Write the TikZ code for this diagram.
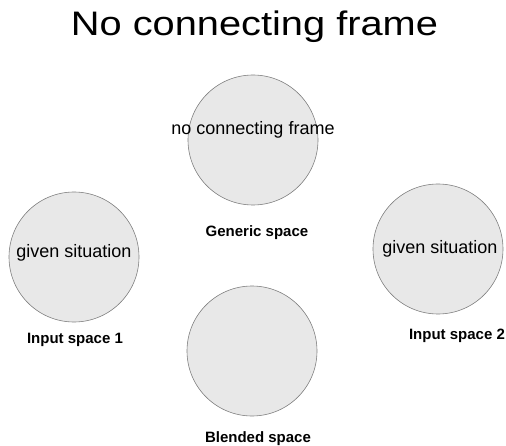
\documentclass[tikz,border=0pt]{standalone}
\usepackage{fontspec}
\setmainfont{Liberation Sans}
\newfontfamily\titlefont[FakeStretch=1.17]{Liberation Sans}
\usepackage{tikz}
\usetikzlibrary{positioning}
\tikzstyle{space} = [circle, minimum size=130pt, inner sep=0pt, draw=black!50, fill=black!9, line width=0.6pt]
\tikzstyle{inside} = [anchor=base, inner sep=0pt, font=\fontsize{18}{20}\selectfont]
\tikzstyle{caption} = [anchor=base, inner sep=0pt, font=\fontsize{15}{17}\selectfont\bfseries]

\begin{document}
\begin{tikzpicture}[x=1pt,y=1pt]
			\useasboundingbox (0,0) rectangle (506,445);
			\node (title) [anchor=base, inner sep=0pt, font=\titlefont\fontsize{34}{38}\selectfont] at (254.5,409) {No connecting frame};

			\node (gen) [space] at (253,305) {};
			\node (in1) [space] at (74,188) {};
			\node (in2) [space] at (438,196) {};
			\node (blend) [space] at (252,94) {};

			\node (genin) [inside, yshift=5pt] at (gen) {no connecting frame};
			\node (in1in) [inside, yshift=-1pt] at (in1) {given situation};
			\node (in2in) [inside, xshift=2pt, yshift=-5pt] at (in2) {given situation};

			\node (gencap) [caption, below=31pt of gen.south, anchor=base, xshift=4pt] {Generic space};
			\node (in1cap) [caption, below=21pt of in1.south, anchor=base, xshift=1pt] {Input space 1};
			\node (in2cap) [caption, below=25pt of in2.south, anchor=base, xshift=19pt] {Input space 2};
			\node (blendcap) [caption, below=26pt of blend.south, anchor=base, xshift=6pt] {Blended space};
			\end{tikzpicture}
\end{document}
